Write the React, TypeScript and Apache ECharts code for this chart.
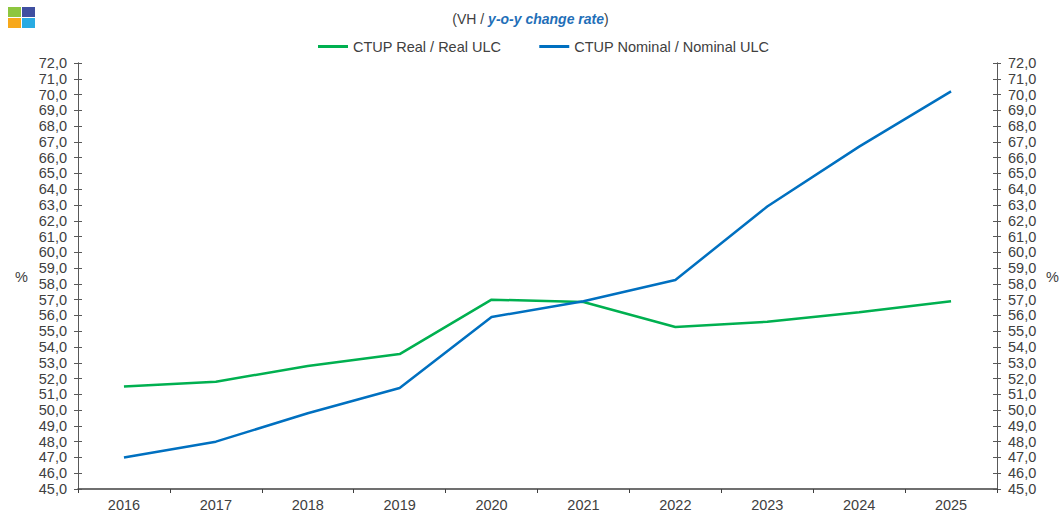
import React, { useEffect, useRef } from "react";
import * as echarts from "echarts";

const years = ["2016", "2017", "2018", "2019", "2020", "2021", "2022", "2023", "2024", "2025"];
const realSeries = [51.5, 51.8, 52.8, 53.55, 57.0, 56.85, 55.27, 55.6, 56.2, 56.9];
const nominalSeries = [47.0, 48.0, 49.8, 51.4, 55.9, 56.9, 58.25, 62.9, 66.7, 70.2];
const seriesNames = ["CTUP Real / Real ULC", "CTUP Nominal / Nominal ULC"];
const yMin = 45;
const yMax = 72;

const fmt = (v: number) => v.toFixed(1).replace(".", ",");

export default function App() {
  const ref = useRef<HTMLDivElement>(null);
  useEffect(() => {
    if (!ref.current) return;
    const chart = echarts.init(ref.current, null, { renderer: "svg" });
    const font = "Liberation Sans, Arial, sans-serif";
    const fs = 14.5;
    const axisCommon = (pos: "left" | "right", inside: boolean, labels: boolean) => ({
      type: "value",
      position: pos,
      min: yMin,
      max: yMax,
      interval: 1,
      splitLine: { show: false },
      axisLine: { show: true, lineStyle: { color: "#595959", width: 1 } },
      axisTick: { show: true, inside, length: 4, lineStyle: { color: "#595959" } },
      axisLabel: {
        show: labels,
        formatter: fmt,
        color: "#404040",
        fontSize: fs,
        fontFamily: font,
        margin: 11,
      },
    });
    chart.setOption({
      animation: false,
      backgroundColor: "#ffffff",
      title: {
        text: "(VH / {b|y-o-y change rate})",
        left: "center",
        top: 7,
        textStyle: {
          fontSize: 14,
          fontWeight: "normal",
          color: "#404040",
          fontFamily: font,
          rich: {
            b: {
              fontSize: 14,
              fontWeight: "bold",
              fontStyle: "italic",
              color: "#1f6fb8",
              fontFamily: font,
            },
          },
        },
      },
      legend: {
        left: 313,
        top: 34,
        itemWidth: 30,
        itemHeight: 3,
        itemGap: 38,
        icon: "rect",
        textStyle: { fontSize: fs, color: "#404040", fontFamily: font },
        data: seriesNames,
      },
      graphic: [
        { type: "rect", shape: { x: 8, y: 7, width: 13, height: 10 }, style: { fill: "#8dc63f" } },
        { type: "rect", shape: { x: 22, y: 7, width: 13, height: 10 }, style: { fill: "#3f4fa0" } },
        { type: "rect", shape: { x: 8, y: 18, width: 13, height: 10 }, style: { fill: "#f7a81b" } },
        { type: "rect", shape: { x: 22, y: 18, width: 13, height: 10 }, style: { fill: "#29abe2" } },
        { type: "text", x: 15, y: 269, style: { text: "%", fontSize: fs, fill: "#404040", fontFamily: font } },
        { type: "text", x: 1046, y: 269, style: { text: "%", fontSize: fs, fill: "#404040", fontFamily: font } },
      ],
      grid: { left: 78, right: 64, top: 63, bottom: 23, containLabel: false },
      xAxis: {
        type: "category",
        data: years,
        boundaryGap: true,
        axisLine: { lineStyle: { color: "#404040", width: 1.5 } },
        axisTick: { show: true, length: 4, lineStyle: { color: "#404040" } },
        axisLabel: { color: "#404040", fontSize: fs, fontFamily: font, margin: 8 },
      },
      yAxis: [
        axisCommon("left", false, true),
        axisCommon("right", false, true),
        axisCommon("left", true, false),
        axisCommon("right", true, false),
      ],
      series: [
        {
          name: seriesNames[0],
          type: "line",
          data: realSeries,
          yAxisIndex: 0,
          symbol: "none",
          lineStyle: { color: "#00b050", width: 2.5 },
          itemStyle: { color: "#00b050" },
        },
        {
          name: seriesNames[1],
          type: "line",
          data: nominalSeries,
          yAxisIndex: 0,
          symbol: "none",
          lineStyle: { color: "#0070c0", width: 2.5 },
          itemStyle: { color: "#0070c0" },
        },
      ],
    });
    return () => chart.dispose();
  }, []);
  return (
    <div
      ref={ref}
      style={{ position: "fixed", left: 0, top: 0, width: 1061, height: 512 }}
    />
  );
}
